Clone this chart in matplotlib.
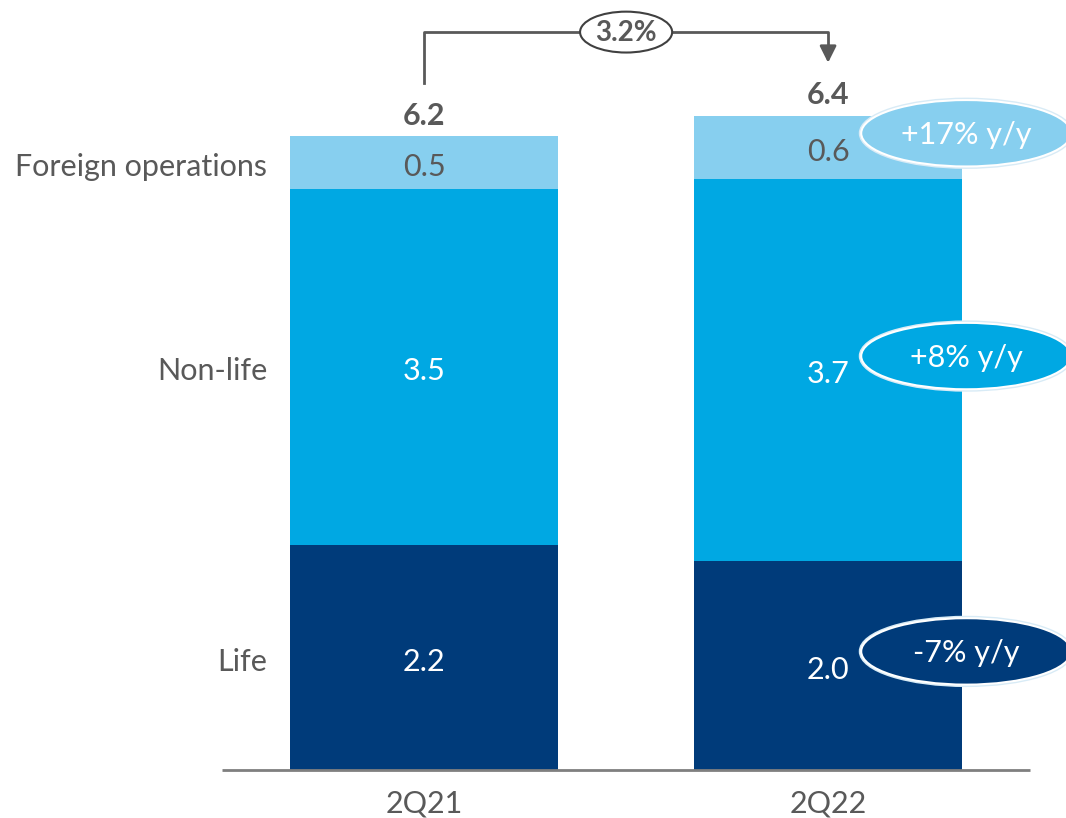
import matplotlib.pyplot as plt
from matplotlib.patches import Ellipse

plt.rcParams['font.family'] = ['Lato', 'DejaVu Sans']

# values (rounded labels shown on the bars)
quarters = ["2Q21", "2Q22"]
segments = ["Life", "Non-life", "Foreign operations"]
life = [2.20, 2.04]
non_life = [3.48, 3.74]
foreign = [0.52, 0.62]
seg_labels = [["2.2", "2.0"], ["3.5", "3.7"], ["0.5", "0.6"]]
totals = ["6.2", "6.4"]
growth_labels = ["-7% y/y", "+8% y/y", "+17% y/y"]
total_growth = "3.2%"

colors = ["#003b7a", "#00a8e3", "#87cfef"]
text_colors = ["white", "white", "#595959"]
gray = "#595959"
fs = 22

fig = plt.figure(figsize=(10.66, 8.18), dpi=100)
ax = fig.add_axes([0, 0, 1, 1])
ax.set_xlim(-1.05, 1.589)
ax.set_ylim(-0.47, 7.534)
ax.axis("off")

x = [0, 1]
width = 0.663
series = [life, non_life, foreign]
bottoms = [0.0, 0.0]
mids = []
for k, vals in enumerate(series):
    ax.bar(x, vals, width, bottom=bottoms, color=colors[k], edgecolor="none")
    m = [b + v / 2 for b, v in zip(bottoms, vals)]
    mids.append(m)
    for i in range(2):
        ax.text(x[i], m[i] - 0.04, seg_labels[k][i],
                ha="center", va="center", fontsize=fs, color=text_colors[k])
    bottoms = [b + v for b, v in zip(bottoms, vals)]

# segment names on the left
for k, name in enumerate(segments):
    ax.text(-0.389, mids[k][0] - 0.04, name, ha="right", va="center",
            fontsize=fs, color=gray)

# totals
for i in range(2):
    ax.text(x[i], bottoms[i] + 0.2, totals[i], ha="center", va="center",
            fontsize=fs, fontweight="bold", color=gray)

# baseline and quarter labels
ax.plot([-0.5, 1.5], [0, 0], color="#7f7f7f", lw=2, solid_capstyle="butt")
for i in range(2):
    ax.text(x[i], -0.33, quarters[i], ha="center", va="center",
            fontsize=fs, color=gray)

# y/y bubbles next to 2Q22
for k in range(3):
    cy = mids[k][1] + 0.14
    ax.add_patch(Ellipse((1.342, cy), 0.52, 0.65, facecolor=colors[k],
                         edgecolor="#d8ebf6", lw=3.5, zorder=3))
    ax.add_patch(Ellipse((1.342, cy), 0.52, 0.65, facecolor=colors[k],
                         edgecolor="white", lw=1.5, zorder=4))
    ax.text(1.342, cy - 0.02, growth_labels[k], ha="center", va="center",
            fontsize=fs, color="white", zorder=5)

# bracket with total growth
top = 7.22
ax.plot([0, 0, 1, 1], [6.72, top, top, 7.0], color=gray, lw=2)
ax.annotate("", xy=(1, 6.92), xytext=(1, 7.05),
            arrowprops=dict(arrowstyle="-|>", color=gray, lw=2,
                            mutation_scale=25, shrinkA=0, shrinkB=0))
ax.add_patch(Ellipse((0.5, top), 0.228, 0.40, facecolor="white",
                     edgecolor="#404040", lw=1.5, zorder=4))
ax.text(0.5, top - 0.01, total_growth, ha="center", va="center", fontsize=20,
        fontweight="bold", color=gray, zorder=5)

fig.savefig("out.png", dpi=100)
